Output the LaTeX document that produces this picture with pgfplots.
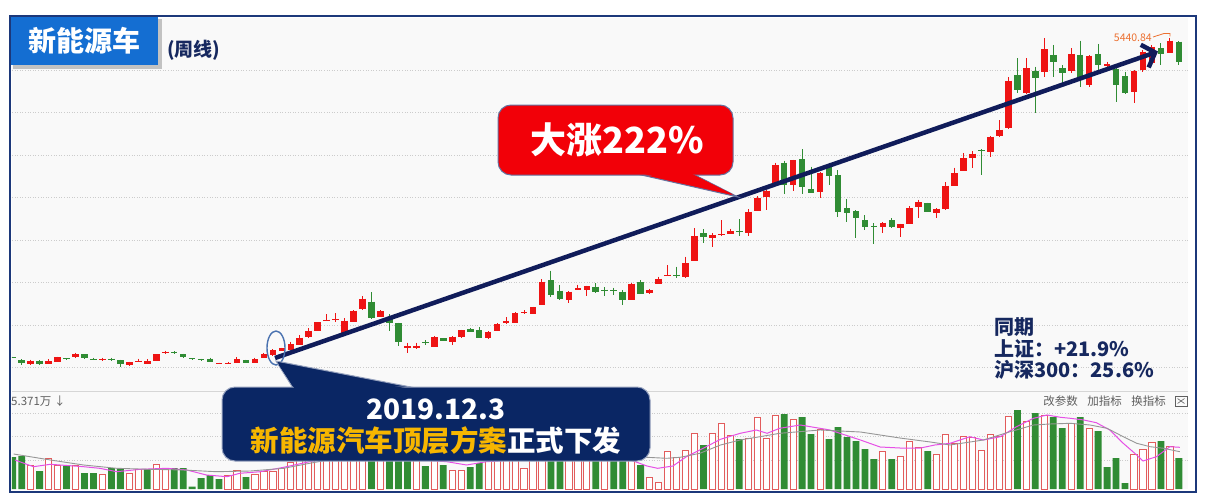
\documentclass[border=0pt]{standalone}
\usepackage{pgfplots}
\pgfplotsset{compat=1.18}
\usepackage{pgfplotstable}
\usepackage{fontspec}
\setmainfont{Noto Sans CJK SC}
\usetikzlibrary{arrows.meta}

\definecolor{cRed}{RGB}{238,20,20}
\definecolor{cGreen}{RGB}{48,140,52}
\definecolor{vRed}{RGB}{226,92,92}
\definecolor{maPink}{RGB}{230,80,230}
\definecolor{maGray}{RGB}{150,150,150}
\definecolor{panelGray}{RGB}{249,249,249}
\definecolor{frameNavy}{RGB}{28,56,122}
\definecolor{titleBlue}{RGB}{20,110,210}
\definecolor{arrowNavy}{RGB}{16,28,90}
\definecolor{boxNavy}{RGB}{10,38,100}
\definecolor{boxEdge}{RGB}{150,162,190}
\definecolor{gold}{RGB}{247,182,0}
\definecolor{bubbleRed}{RGB}{242,0,8}
\definecolor{bubbleEdge}{RGB}{100,115,160}
\definecolor{infoNavy}{RGB}{22,40,95}
\definecolor{ellBlue}{RGB}{74,114,176}
\definecolor{lblOrange}{RGB}{236,112,48}
\definecolor{toolGray}{RGB}{95,95,95}

% weekly candles, rising weeks: index, open, high, low, close
\pgfplotstableread{
i o h l c
1 2183 2225 2175 2213
3 2183 2227 2180 2210
4 2203 2255 2200 2247
6 2247 2293 2243 2280
9 2220 2245 2215 2232
12 2170 2205 2165 2200
13 2205 2235 2203 2215
14 2180 2227 2177 2207
15 2210 2280 2207 2277
16 2287 2313 2283 2303
22 2180 2193 2177 2190
23 2185 2203 2182 2195
24 2193 2247 2190 2227
26 2190 2243 2187 2230
27 2240 2293 2237 2280
28 2270 2330 2265 2320
29 2313 2345 2310 2337
30 2320 2403 2317 2377
31 2370 2470 2367 2443
32 2447 2537 2445 2513
33 2510 2600 2507 2597
34 2615 2680 2610 2625
35 2620 2687 2603 2630
36 2470 2637 2460 2613
37 2603 2720 2600 2713
38 2727 2860 2723 2833
40 2653 2720 2650 2710
43 2345 2393 2293 2360
44 2343 2393 2327 2365
46 2353 2460 2350 2447
48 2397 2460 2370 2453
49 2447 2525 2443 2520
52 2437 2510 2433 2503
53 2513 2590 2510 2580
54 2587 2647 2583 2613
55 2593 2700 2590 2687
56 2687 2720 2683 2697
57 2680 2755 2677 2747
58 2770 3030 2767 3003
61 2820 2910 2793 2903
62 2920 2975 2917 2937
63 2920 2965 2860 2960
68 2820 2987 2817 2983
70 2893 2935 2885 2920
71 2980 3053 2977 3033
72 3063 3170 3060 3073
74 3050 3253 3037 3190
75 3213 3537 3210 3460
77 3440 3490 3353 3467
78 3467 3620 3463 3480
79 3480 3533 3477 3510
81 3493 3730 3460 3703
82 3715 3860 3710 3845
83 3853 3920 3725 3915
84 3970 4193 3967 4170
86 3970 4225 3913 4220
89 3905 4097 3837 4092
96 3547 3600 3493 3593
98 3538 3585 3447 3580
99 3583 3760 3580 3737
100 3747 3825 3642 3798
102 3693 3740 3642 3733
103 3727 4000 3723 3963
104 3963 4143 3960 4090
105 4110 4292 4107 4240
106 4237 4310 4137 4283
108 4297 4460 4255 4453
109 4457 4620 4453 4523
110 4537 5047 4533 5013
112 4887 5237 4883 5137
114 5103 5435 5047 5327
117 5113 5337 5087 5280
119 4970 5267 4953 5263
121 5160 5203 5137 5180
124 4903 5120 4793 5113
125 5120 5320 5103 5303
126 5187 5370 5183 5353
128 5293 5440.84 5290 5413
}\upT

% weekly candles, falling weeks
\pgfplotstableread{
i o h l c
-1 2250 2255 2237 2242
0 2220 2230 2175 2187
2 2213 2220 2173 2180
5 2237 2240 2223 2227
7 2277 2280 2233 2237
8 2232 2243 2218 2220
10 2235 2245 2215 2225
11 2220 2225 2153 2177
17 2305 2307 2277 2295
18 2280 2285 2243 2247
19 2237 2240 2225 2228
20 2227 2233 2210 2219
21 2233 2243 2197 2200
25 2220 2223 2190 2193
39 2803 2897 2633 2637
41 2653 2680 2513 2587
42 2587 2595 2363 2403
45 2400 2420 2370 2390
47 2437 2440 2410 2413
50 2527 2540 2500 2503
51 2520 2550 2440 2443
59 3020 3113 2847 2870
60 2913 2970 2823 2827
64 2953 2990 2887 2903
65 2925 2947 2860 2915
66 2918 2943 2875 2910
67 2903 2920 2770 2817
69 2997 3020 2880 2883
73 3073 3153 3037 3060
76 3487 3530 3387 3447
80 3507 3630 3460 3497
85 4193 4215 3880 3970
87 4230 4327 3880 3953
88 3927 4153 3890 3895
90 4173 4193 3970 4060
91 4070 4117 3653 3703
92 3737 3832 3603 3695
93 3708 3720 3437 3637
94 3617 3670 3520 3547
95 3565 3587 3380 3555
97 3617 3640 3543 3547
101 3790 3795 3700 3703
107 4320 4327 4070 4310
111 5070 5237 4887 4920
113 5113 5153 4693 5037
115 5270 5370 5053 5197
116 5137 5170 4987 5087
118 5270 5413 4947 5027
120 5280 5380 5120 5170
122 5127 5153 4803 4970
123 5060 5103 4880 4887
127 5337 5387 5170 5280
129 5403 5405 5170 5203
}\downT

% weekly volume, rising weeks
\pgfplotstableread{
i v
1 24
3 31
4 24
6 24
9 15
12 16
13 20
15 25
16 20
23 14
24 19
26 15
27 18
28 18
29 21
30 27
31 30
32 33
33 40
34 36
35 35
36 45
37 48
38 55
40 45
44 35
46 38
48 19
49 19
52 32
53 34
54 31
55 36
56 21
57 33
58 55
61 38
62 33
63 35
65 31
68 40
70 12
71 7
72 38
73 32
74 39
75 56
77 56
78 66
79 54
81 51
82 72
83 51
84 74
86 70
89 60
96 38
98 33
99 48
100 42
102 35
103 55
104 46
105 53
106 52
107 39
108 55
109 53
110 73
112 68
114 74
117 66
119 61
124 35
125 40
126 47
128 43
}\volUp

% weekly volume, falling weeks
\pgfplotstableread{
i v
-1 32
0 33
2 18
5 23
7 16
8 16
10 21
11 21
14 20
17 21
18 21
19 2.5
20 11
21 14
22 10
25 12
39 60
41 50
42 52
43 42
45 23
47 24
50 22
51 26
59 58
60 40
64 34
66 30
67 36
69 24
76 44
80 50
85 75
87 72
88 55
90 50
91 62
92 52
93 48
94 40
95 30
97 30
101 38
111 79
113 76
115 72
116 61
118 72
120 58
121 22
122 31
123 6
127 48
129 31
}\volDown

\pgfplotsset{
  panel/.style={
    scale only axis, width=1176pt, xmin=-1.081, xmax=130.02,
    axis line style={draw=none}, xtick=\empty, yticklabel=\empty,
    major tick length=0pt, ymajorgrids,
    grid style={line width=0.8pt, draw=black!20, dash pattern=on 1pt off 1.6pt},
  },
  wick/.style={draw=none, no markers, mark size=0pt,
    error bars/.cd, y dir=minus, y explicit, error mark=none,
    error bar style={line width=1pt, draw=#1}},
  body/.style={draw=none, no markers, mark size=0pt,
    error bars/.cd, y dir=minus, y explicit, error mark=none,
    error bar style={line width=6.6pt, draw=#1}},
}

\begin{document}
\begin{tikzpicture}
% page and panel background
\begin{scope}[x=1pt,y=-1pt]
  \fill[white] (0,0) rectangle (1206,503);
  \fill[panelGray] (12,18) rectangle (1188,489);
\end{scope}

% price panel
\begin{axis}[panel, at={(12pt,-390pt)}, anchor=south west, height=370pt,
  ymin=1920, ymax=5620, ytick={2145,2570,2995,3420,3845,4270,4695,5120}]
  \addplot[wick=cRed] table[x=i, y=h, y error expr=\thisrow{h}-\thisrow{l}] {\upT};
  \addplot[wick=cGreen] table[x=i, y=h, y error expr=\thisrow{h}-\thisrow{l}] {\downT};
  \addplot[body=cRed] table[x=i, y=c, y error expr=\thisrow{c}-\thisrow{o}] {\upT};
  \addplot[body=cGreen] table[x=i, y=o, y error expr=\thisrow{o}-\thisrow{c}] {\downT};
\end{axis}

% volume panel
\begin{axis}[panel, at={(12pt,-489pt)}, anchor=south west, height=98pt,
  ymin=0, ymax=98, ytick={29,52.5,76}]
  \addplot[ybar, bar width=6.2pt, bar shift=0pt, draw=vRed, fill=white, line width=0.9pt]
    table[x=i, y=v] {\volUp};
  \addplot[ybar, bar width=6.8pt, bar shift=0pt, draw=none, fill=cGreen]
    table[x=i, y=v] {\volDown};
  % 5-week average
  \addplot[maPink, line width=1pt] coordinates {
    (-0.75,29) (1.3,22.3) (3.2,24.7) (6.9,22.3) (8.7,20.7) (10.6,17.3) (13.2,19.7)
    (16.2,20.7) (18.4,19) (20.6,14) (22.9,12.3) (24.3,15.7) (26.6,17.3) (29.2,21.7)
    (32.1,27.3) (36.6,35) (41.1,40) (44.7,29) (47.4,27.3) (49.6,24) (51.8,27.3)
    (56.7,30) (62.2,40) (66.7,33) (69.7,23) (70.9,20.7) (72.6,23) (74.1,32.3)
    (75.6,39) (77.9,49.7) (80.1,55.7) (81.9,59) (83.1,55.7) (84.5,60.7) (86.8,64)
    (90.1,59) (93.5,49) (95.7,42) (97.9,41) (100.2,41) (101.8,44) (103.5,45.7)
    (105.7,52.3) (107.2,49) (109.1,52.3) (110.9,62.3) (112.8,70.7) (114.3,74)
    (115.8,71.7) (116.9,70.7) (118.4,69) (119.8,66.3) (121.3,59) (122.8,45.7)
    (124.3,34) (125.0,28) (126.5,32.3) (128.0,42.3) (129.1,41.7)};
  % 10-week average
  \addplot[maGray, line width=0.9pt] coordinates {
    (-0.9,35) (3.2,29) (6.9,24) (10.6,20.7) (14.3,19.7) (18.0,19) (21.7,17.3)
    (25.5,18) (29.2,20.7) (32.1,25.7) (36.6,33) (42.2,38) (47.8,31) (53.3,32)
    (58.9,38) (64.5,36) (69.7,31.7) (71.9,30.7) (73.4,31.7) (75.6,35.7) (77.9,44)
    (80.1,49) (82.3,52.3) (84.5,55.7) (89.0,59) (93.5,57) (97.9,51) (101.3,47)
    (103.5,44) (107.2,49) (110.2,57.3) (112.8,64) (114.6,65) (116.9,65.7)
    (119.1,64) (121.0,60.7) (122.8,52.3) (124.3,45.7) (125.8,42.3) (127.3,40.7)
    (129.1,37.3)};
\end{axis}

\begin{scope}[x=1pt,y=-1pt]
  % panel divider
  \draw[black!16, line width=0.8pt] (12,391) -- (1188,391);

  % volume panel header
  \node[anchor=west, text=toolGray, font=\fontsize{11.5}{13}\selectfont, inner sep=0pt] at (11,401) {5.371万 ↓};
  \node[text=toolGray, font=\fontsize{11.5}{13}\selectfont, inner sep=0pt] at (1060.5,401) {改参数};
  \node[text=toolGray, font=\fontsize{11.5}{13}\selectfont, inner sep=0pt] at (1104.5,401) {加指标};
  \node[text=toolGray, font=\fontsize{11.5}{13}\selectfont, inner sep=0pt] at (1148.5,401) {换指标};
  \draw[toolGray, line width=0.6pt] (1175,396) rectangle (1187,406);
  \draw[toolGray, line width=0.6pt] (1177.5,398.5) -- (1184.5,403.5) (1177.5,403.5) -- (1184.5,398.5);

  % trend arrow and start marker
  \draw[arrowNavy, line width=4.5pt, -{Straight Barb[length=11pt,width=24pt]}] (275,358) -- (1158,51.5);
  \draw[ellBlue, line width=1.4pt] (276,348) ellipse [x radius=9, y radius=17];

  % peak label
  \node[anchor=east, text=lblOrange, font=\fontsize{10.5}{12}\selectfont, inner sep=0pt] at (1152,38) {5440.84};
  \draw[lblOrange, line width=0.8pt] (1153,37) -- (1164,33.5) -- (1170,33.5) -- (1170,36.5);

  % red bubble
  \filldraw[fill=bubbleRed, draw=bubbleEdge, line width=1pt] (637,174) -- (738,197) -- (693,174) -- cycle;
  \filldraw[fill=bubbleRed, draw=bubbleEdge, line width=1pt, rounded corners=13pt] (498,105) rectangle (733,175);
  \fill[bubbleRed] (640,173) -- (733,194.5) -- (690,173) -- cycle;
  \node[text=white, font=\fontsize{36}{38}\selectfont\bfseries] at (617,140) {大涨222\%};

  % navy bubble
  \filldraw[fill=boxNavy, draw=boxEdge, line width=1pt] (293,388) -- (276,361) -- (416,388) -- cycle;
  \filldraw[fill=boxNavy, draw=boxEdge, line width=1pt, rounded corners=13pt] (222,387) rectangle (650,461);
  \fill[boxNavy] (295,389) -- (278.5,364.5) -- (410,389) -- cycle;
  \node[text=white, font=\fontsize{28}{30}\selectfont\bfseries] at (436,409) {2019.12.3};
  \node[font=\fontsize{28.5}{30}\selectfont\bfseries] at (436,441) {\textcolor{gold}{新能源汽车顶层方案}\textcolor{white}{正式下发}};

  % same-period comparison
  \node[anchor=west, text=infoNavy, font=\fontsize{20}{22}\selectfont\bfseries, inner sep=0pt] at (994,327.5) {同期};
  \node[anchor=west, text=infoNavy, font=\fontsize{20}{22}\selectfont\bfseries, inner sep=0pt] at (994,348.5) {上证：+21.9\%};
  \node[anchor=west, text=infoNavy, font=\fontsize{20}{22}\selectfont\bfseries, inner sep=0pt] at (994,369.5) {沪深300：25.6\%};

  % title
  \fill[black, opacity=0.22] (13,19) rectangle (162,69);
  \fill[titleBlue] (10,16) rectangle (158,65);
  \node[text=white, font=\fontsize{28}{30}\selectfont\bfseries] at (84,41) {新能源车};
  \node[anchor=west, text=infoNavy, font=\fontsize{19}{22}\selectfont\bfseries, inner sep=0pt] at (167,50) {(周线)};

  % outer frame
  \draw[frameNavy, line width=2pt] (10,16) rectangle (1195.5,491.5);
\end{scope}

\pgfresetboundingbox
\path[x=1pt,y=-1pt] (0,0) rectangle (1206,503);
\end{tikzpicture}
\end{document}
